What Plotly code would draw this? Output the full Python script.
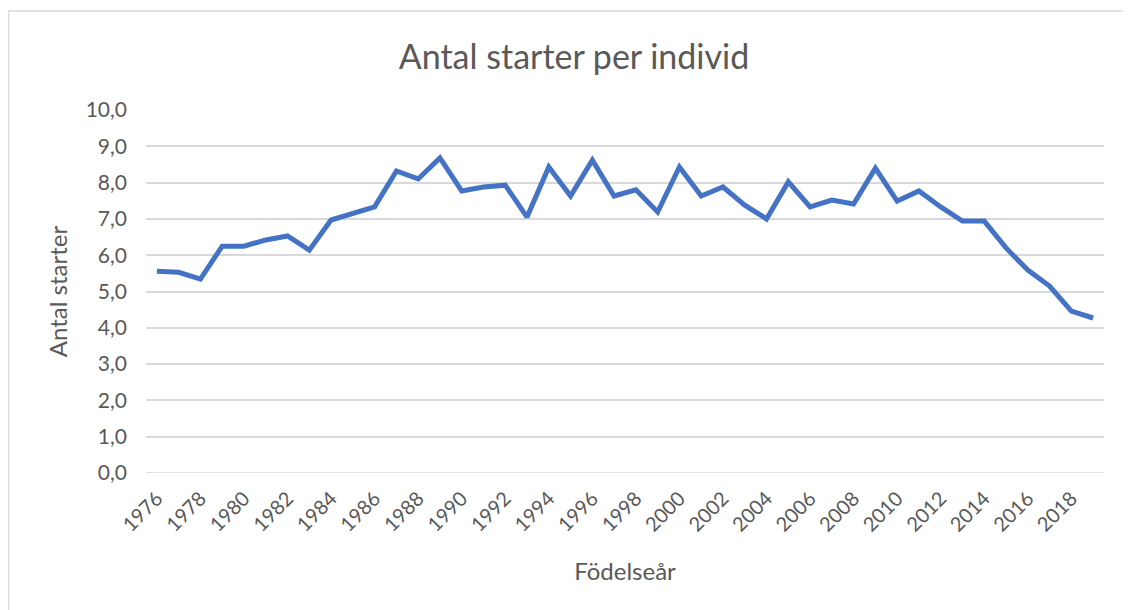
import plotly.graph_objects as go

years = list(range(1976, 2020))
values = [5.56, 5.53, 5.34, 6.25, 6.25, 6.42, 6.53, 6.14, 6.97, 7.16,
          7.33, 8.32, 8.10, 8.68, 7.77, 7.88, 7.93, 7.05, 8.43, 7.63,
          8.62, 7.63, 7.80, 7.19, 8.43, 7.63, 7.88, 7.38, 7.00, 8.02,
          7.33, 7.52, 7.41, 8.40, 7.49, 7.77, 7.33, 6.94, 6.94, 6.20,
          5.59, 5.15, 4.46, 4.27]
tick_years = list(range(1976, 2019, 2))

title_text = "Antal starter per individ"
x_title = "Födelseår"
y_title = "Antal starter"

txt = "#595959"
font_family = "Lato, 'Open Sans', sans-serif"

W, H = 1123, 602          # page body has an 8px margin
L, T, R, B = 138, 102, 27, 137
plot_w = W - L - R
plot_h = H - T - B

fig = go.Figure()
fig.add_trace(go.Scatter(
    x=years, y=values, mode="lines",
    line=dict(color="#4472C4", width=5),
    hoverinfo="x+y",
))

fig.update_layout(
    width=W, height=H,
    paper_bgcolor="white", plot_bgcolor="white",
    margin=dict(l=L, r=R, t=T, b=B, autoexpand=False),
    separators=", ",
    showlegend=False,
    title=dict(text=title_text, x=(574 - 8) / W, xref="container", xanchor="center",
               y=1 - 49/H, yref="container", yanchor="middle",
               font=dict(family=font_family, size=34, color=txt)),
    font=dict(family=font_family, color=txt),
    xaxis=dict(
        range=[1975.5, 2019.5],
        tickmode="array", tickvals=tick_years, ticktext=[str(y) for y in tick_years],
        tickangle=-45, tickfont=dict(size=20, color=txt),
        showgrid=False, zeroline=False, showline=False, ticks="",
        ticklabelstandoff=9,
        title=dict(text=x_title, font=dict(size=24, color=txt), standoff=28),
    ),
    yaxis=dict(
        range=[0, 10], dtick=1, tickformat=".1f",
        tickfont=dict(size=21, color=txt),
        showgrid=True, gridcolor="#d9d9d9", gridwidth=1.5,
        zeroline=False, showline=False, ticks="",
        ticklabelstandoff=18,
        title=dict(text=y_title, font=dict(size=24, color=txt), standoff=11),
    ),
    shapes=[dict(type="rect", xref="paper", yref="paper",
                 x0=-(L - 0.5)/plot_w, x1=1.2, y0=-1.0, y1=1 + (T - 3)/plot_h,
                 line=dict(color="#d9d9d9", width=1.5), layer="below")],
)
fig.add_hline(y=0, line=dict(color="#d9d9d9", width=1.5), layer="below")

fig.write_html("out.html")
